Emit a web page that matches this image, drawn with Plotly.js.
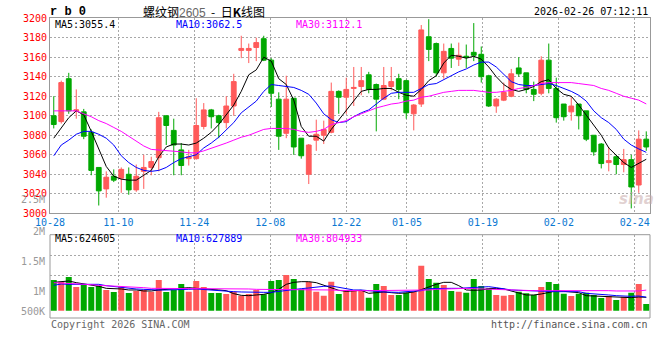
<!DOCTYPE html>
<html><head><meta charset="utf-8">
<script src="https://cdn.plot.ly/plotly-3.0.1.min.js"></script>
<style>html,body{margin:0;padding:0;background:#fff}#c{width:660px;height:360px}</style>
</head><body><div id="c"></div>
<script>
const dates = ['10-28','10-29','10-30','10-31',
 '11-03','11-04','11-05','11-06','11-07','11-10','11-11','11-12','11-13','11-14',
 '11-17','11-18','11-19','11-20','11-21','11-24','11-25','11-26','11-27','11-28',
 '12-01','12-02','12-03','12-04','12-05','12-08','12-09','12-10','12-11','12-12',
 '12-15','12-16','12-17','12-18','12-19','12-22','12-23','12-24','12-25','12-26',
 '12-29','12-30','12-31',
 '01-05','01-06','01-07','01-08','01-09','01-12','01-13','01-14','01-15','01-16',
 '01-19','01-20','01-21','01-22','01-23','01-26','01-27','01-28','01-29','01-30',
 '02-02','02-03','02-04','02-05','02-06','02-09','02-10','02-11','02-12','02-13',
 '02-24','02-25','02-26'];
const tickLabels = ['10-28','11-10','11-24','12-08','12-22','01-05','01-19','02-02','02-24'];

const open = [3100,3094,3138,3105,3104,3083,3047,3025,3038,3036,
 3040,3024,3043,3047,3057,3100,3085,3065,3056,3056,
 3089,3106,3100,3093,3110,3167,3167,3170,3179,3157,
 3117,3082,3118,3077,3040,3075,3080,3083,3125,3119,
 3128,3130,3142,3132,3117,3130,3138,3136,3102,3112,
 3181,3174,3144,3169,3158,3161,3165,3163,3141,3110,
 3116,3120,3149,3144,3127,3123,3157,3128,3112,3104,
 3112,3105,3080,3071,3052,3058,3050,3055,3029,3076];
const high = [3120,3136,3144,3127,3107,3086,3047,3043,3045,3047,
 3047,3050,3060,3058,3104,3100,3097,3072,3065,3118,
 3113,3107,3101,3120,3143,3182,3174,3180,3182,3159,
 3124,3141,3118,3077,3071,3096,3095,3134,3126,3139,
 3150,3150,3145,3133,3150,3150,3143,3137,3112,3193,
 3199,3175,3174,3174,3175,3173,3195,3171,3142,3118,
 3134,3148,3160,3144,3135,3161,3174,3139,3112,3119,
 3112,3105,3080,3072,3068,3060,3066,3060,3085,3084];
const low = [3087,3092,3102,3097,3076,3039,3008,3016,3032,3021,
 3019,3022,3025,3039,3043,3070,3039,3039,3049,3055,
 3086,3087,3077,3087,3100,3159,3154,3156,3156,3109,
 3065,3077,3060,3056,3030,3064,3071,3082,3102,3102,
 3110,3121,3123,3084,3116,3126,3117,3097,3085,3109,
 3156,3140,3138,3149,3151,3149,3156,3134,3109,3103,
 3115,3119,3140,3123,3115,3121,3123,3093,3095,3095,
 3086,3074,3059,3046,3043,3040,3042,3005,3021,3064];
const close = [3091,3134,3105,3106,3079,3044,3023,3037,3034,3045,
 3024,3038,3047,3053,3098,3090,3070,3049,3058,3090,
 3106,3099,3093,3110,3135,3169,3169,3175,3157,3123,
 3079,3117,3068,3059,3070,3081,3086,3125,3119,3127,
 3129,3136,3127,3117,3131,3135,3127,3103,3111,3188,
 3168,3144,3166,3159,3162,3160,3162,3140,3110,3117,
 3124,3143,3143,3127,3122,3157,3128,3098,3099,3110,
 3100,3076,3063,3051,3054,3050,3055,3027,3076,3068];

const ma5 = [3077,3088,3098,3105,3101,3084,3065,3048,3038,3035,
 3034,3034,3039,3044,3058,3068,3071,3071,3070,3072,
 3077,3083,3091,3101,3111,3125,3142,3147,3160,3156,
 3138,3132,3116,3089,3079,3079,3074,3086,3096,3106,
 3116,3125,3127,3127,3128,3128,3124,3121,3120,3127,
 3136,3141,3154,3162,3161,3159,3161,3158,3150,3140,
 3132,3127,3125,3127,3130,3135,3137,3128,3122,3120,
 3111,3101,3091,3080,3067,3059,3052,3047,3051,3055.4];
const ma10 = [3059,3070,3075,3081,3084,3084,3081,3077,3070,3059,
 3052,3047,3044,3043,3044,3047,3052,3056,3058,3060,
 3067,3072,3078,3085,3093,3103,3109,3115,3125,3132,
 3131,3130,3129,3126,3122,3113,3102,3096,3093,3094,
 3099,3103,3106,3112,3118,3123,3124,3124,3124,3128,
 3132,3133,3137,3141,3145,3148,3152,3155,3155,3150,
 3143,3135,3132,3131,3131,3132,3133,3131,3128,3125,
 3121,3115,3105,3098,3093,3086,3076,3070,3066,3062.5];
const ma30 = [3105,3105,3105,3105,3102,3099,3095,3092,3088,3084,
 3079,3074,3069,3065.5,3065,3064.5,3064,3063,3062,3062,
 3064,3066.5,3069.5,3072,3075,3078,3080,3083,3086,3087,
 3087,3087,3086,3084,3083,3084,3086,3091,3093,3095,
 3099,3102,3105,3108,3110,3112,3113,3115,3116,3119,
 3120,3122,3124,3125,3126,3126,3126,3125,3124,3124,
 3125,3126,3128,3129,3131,3133,3134,3134,3134,3134,
 3133,3132,3131,3128,3126,3123,3120,3118,3116,3112.1];

const volume = [1058000,1015000,1133000,883000,933000,883000,915000,808000,758000,890000,
 733000,783000,808000,765000,1058000,758000,808000,958000,765000,1033000,
 883000,733000,733000,708000,765000,665000,708000,808000,700000,1033000,
 1058000,1183000,1083000,825000,1008000,765000,665000,1015000,708000,808000,
 808000,783000,615000,958000,908000,683000,683000,740000,765000,1415000,
 1083000,990000,933000,783000,765000,740000,1083000,908000,850000,683000,
 665000,683000,765000,725000,683000,883000,1008000,958000,715000,658000,
 715000,740000,683000,608000,658000,558000,640000,740000,958000,458000];
const vma5 = [999000,1016000,1033000,991000,966000,941000,899000,849000,849000,833000,
 808000,808000,783000,783000,808000,824000,841000,858000,866000,849000,
 841000,824000,808000,791000,716000,674000,666000,683000,699000,741000,
 824000,949000,999000,1016000,1016000,991000,924000,849000,799000,774000,
 783000,799000,724000,741000,758000,741000,724000,733000,758000,816000,
 891000,949000,999000,999000,916000,808000,799000,808000,841000,849000,
 833000,791000,733000,683000,683000,708000,741000,783000,774000,758000,
 741000,666000,658000,658000,641000,624000,624000,616000,633000,624605];
const vma10 = [924000,958000,949000,949000,949000,949000,949000,916000,891000,866000,
 849000,833000,824000,808000,808000,808000,808000,816000,824000,833000,
 816000,808000,791000,783000,766000,758000,749000,749000,749000,749000,
 774000,808000,833000,841000,858000,883000,899000,908000,874000,833000,
 808000,808000,783000,774000,758000,749000,749000,766000,774000,791000,
 841000,849000,849000,849000,849000,858000,866000,883000,891000,866000,
 833000,808000,799000,791000,774000,766000,766000,766000,766000,766000,
 766000,724000,716000,699000,683000,666000,649000,649000,658000,627889];
const vma30 = [991000,983000,974000,958000,949000,941000,924000,916000,899000,891000,
 883000,874000,866000,849000,849000,841000,841000,841000,849000,849000,
 849000,841000,841000,833000,833000,833000,833000,824000,824000,824000,
 824000,824000,816000,816000,816000,808000,808000,808000,799000,791000,
 791000,791000,791000,791000,791000,791000,791000,791000,791000,799000,
 808000,824000,833000,833000,841000,849000,841000,833000,833000,816000,
 808000,799000,791000,791000,791000,791000,791000,791000,791000,791000,
 791000,799000,808000,791000,791000,783000,783000,783000,783000,804933];

const volLabels = ['2.5M','2M','1.5M','1M','500K'];

const RED = '#ff5a5a', GREEN = '#00a800';
const MONO = 'DejaVu Sans Mono, monospace';
const idx = dates.map((d, i) => i);
const n = dates.length;
const tickvals = tickLabels.map(d => dates.indexOf(d) * n / (n - 1) - 0.5);
const volColors = close.map((c, i) => c >= open[i] ? RED : GREEN);

// pixel -> paper helpers (figure is 660x360, margins l=50 r=10 t=0 b=0)
const PX = p => (p - 50) / 600;
const PY = p => 1 - p / 360;

const traces = [
  {type:'candlestick', x: idx, open, high, low, close, xaxis:'x', yaxis:'y',
   increasing:{line:{color:RED,width:1}, fillcolor:RED},
   decreasing:{line:{color:GREEN,width:1}, fillcolor:GREEN},
   whiskerwidth:0, hoverinfo:'skip'},
  {type:'scatter', mode:'lines', x: idx, y: ma5, line:{color:'#000000',width:1}, xaxis:'x', yaxis:'y', hoverinfo:'skip'},
  {type:'scatter', mode:'lines', x: idx, y: ma10, line:{color:'#0000ff',width:1}, xaxis:'x', yaxis:'y', hoverinfo:'skip'},
  {type:'scatter', mode:'lines', x: idx, y: ma30, line:{color:'#ff00ff',width:1}, xaxis:'x', yaxis:'y', hoverinfo:'skip'},
  {type:'bar', x: idx, y: volume, marker:{color: volColors, line:{width:0}}, xaxis:'x2', yaxis:'y2', hoverinfo:'skip'},
  {type:'scatter', mode:'lines', x: idx, y: vma5, line:{color:'#000000',width:1}, xaxis:'x2', yaxis:'y2', hoverinfo:'skip'},
  {type:'scatter', mode:'lines', x: idx, y: vma10, line:{color:'#0000ff',width:1}, xaxis:'x2', yaxis:'y2', hoverinfo:'skip'},
  {type:'scatter', mode:'lines', x: idx, y: vma30, line:{color:'#ff00ff',width:1}, xaxis:'x2', yaxis:'y2', hoverinfo:'skip'}
];

const gridCommon = {showgrid:true, gridcolor:'#a8a8a8', griddash:'2px,2px', gridwidth:1, zeroline:false};

const last = a => a[a.length - 1];
const ann = (text, x, y, xanchor, color, size, family, extra) => Object.assign({
  text, x: PX(x), y: PY(y), xref:'paper', yref:'paper', xanchor, yanchor:'middle',
  showarrow:false, font:{family: family || MONO, size: size || 10, color: color || '#000'}, borderpad:0
}, extra || {});

const volLabelY = [199, 231, 261, 291, 311];

const annotations = [
  ann('r b 0', 49, 12, 'left', '#000', 12, 'Liberation Mono, monospace', {font:{family:'Liberation Mono, monospace', size:12, color:'#000', weight:'bold'}}),
  ann('螺纹钢<span style="color:#666;font-family:Liberation Sans">2605</span>&#160; -&#160; 日<b>K</b>线图', 142, 12, 'left', '#000', 12, 'Noto Sans CJK SC'),
  ann('2026-02-26 07:12:11', 649, 12, 'right', '#000', 10),
  ann('MA5:' + last(ma5).toFixed(1), 54, 24.5, 'left', '#000', 10),
  ann('MA10:' + last(ma10).toFixed(1), 175, 24.5, 'left', '#0000ff', 10),
  ann('MA30:' + last(ma30).toFixed(1), 295, 24.5, 'left', '#ff00ff', 10),
  ann('MA5:' + last(vma5), 54, 238.5, 'left', '#000', 10),
  ann('MA10:' + last(vma10), 175, 238.5, 'left', '#0000ff', 10),
  ann('MA30:' + last(vma30), 295, 238.5, 'left', '#ff00ff', 10),
  ann('Copyright 2026 SINA.COM', 50, 324, 'left', '#666', 10),
  ann('http://finance.sina.com.cn', 649, 324, 'right', '#555', 10),
  ann('<i><b>sina</b></i>', 636, 199, 'center', 'rgba(200,170,170,0.55)', 15, 'DejaVu Sans')
].concat(volLabels.map((t, k) => ann(t, 46, volLabelY[k], 'right', '#999', 10)));

const layout = {
  width:660, height:360,
  margin:{l:50, r:10, t:0, b:0, pad:0},
  paper_bgcolor:'#fff', plot_bgcolor:'#fff',
  showlegend:false, hovermode:false,
  boxgap:0.2, boxgroupgap:0.2, bargap:0.2,
  xaxis: Object.assign({}, gridCommon, {domain:[0,1], anchor:'y', range:[-0.5, n - 0.5],
    tickmode:'array', tickvals, ticktext: tickLabels, ticks:'',
    tickfont:{family:MONO, size:10, color:'#0a78d2'},
    showline:true, mirror:true, linecolor:'#999', linewidth:1,
    rangeslider:{visible:false}, fixedrange:true}),
  yaxis: Object.assign({}, gridCommon, {domain:[PY(213.3), PY(18.2)], anchor:'x', range:[3000, 3200],
    tickmode:'linear', tick0:3000, dtick:20, ticks:'',
    tickfont:{family:MONO, size:10, color:'#ff0000'},
    showline:true, mirror:true, linecolor:'#999', linewidth:1, fixedrange:true}),
  xaxis2: Object.assign({}, gridCommon, {domain:[0,1], anchor:'y2', matches:'x', range:[-0.5, n - 0.5],
    tickmode:'array', tickvals, showticklabels:false, ticks:'', showline:false, fixedrange:true}),
  yaxis2: Object.assign({}, gridCommon, {domain:[PY(310.7), PY(234.7)], anchor:'x2', range:[290000, 2190000],
    tickmode:'array', tickvals:[1182500, 1682500], showticklabels:false, ticks:'', showline:false, fixedrange:true}),
  shapes:[
    {type:'rect', xref:'paper', yref:'paper', x0:0, x1:1, y0:PY(318), y1:PY(234.7),
     line:{color:'#999', width:1}, fillcolor:'rgba(0,0,0,0)', layer:'above'}
  ],
  annotations
};

Plotly.newPlot('c', traces, layout, {displayModeBar:false, staticPlot:true});
</script>
</body></html>
